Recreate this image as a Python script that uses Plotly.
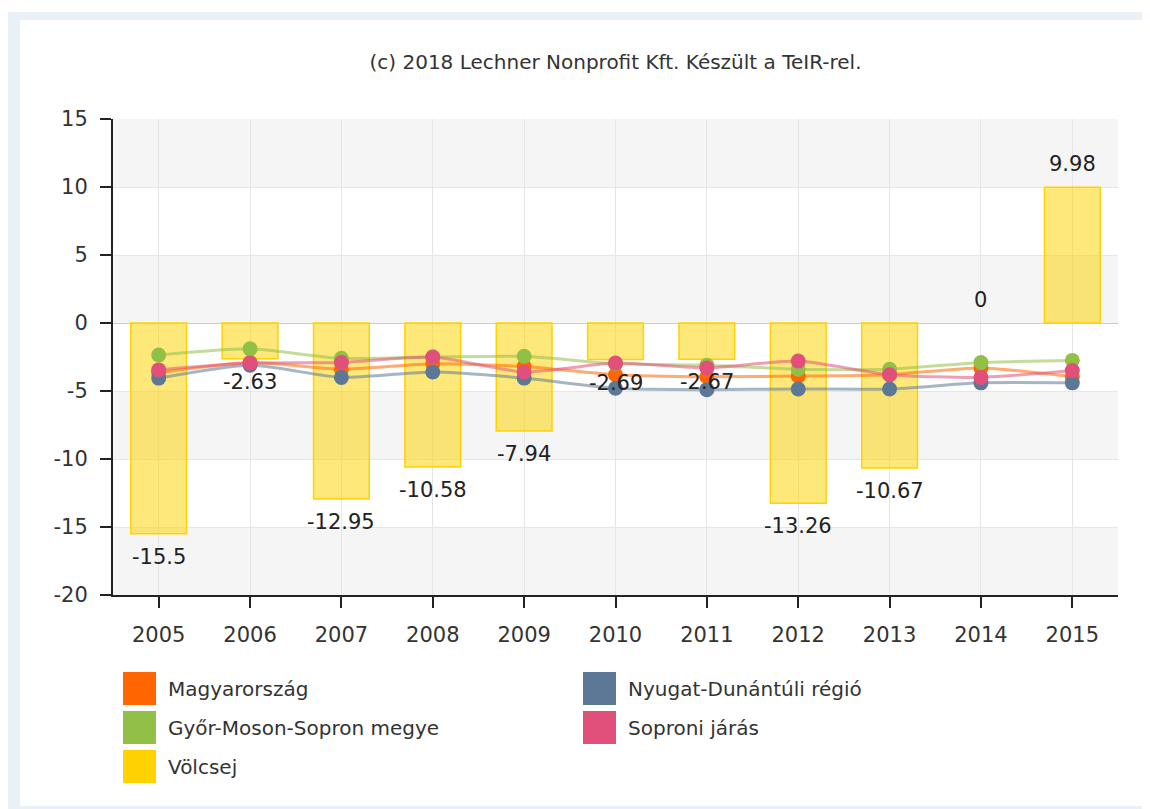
import plotly.graph_objects as go

# ---------------- data ----------------
years = ["2005", "2006", "2007", "2008", "2009", "2010", "2011", "2012", "2013", "2014", "2015"]
volcsej = [-15.5, -2.63, -12.95, -10.58, -7.94, -2.69, -2.67, -13.26, -10.67, 0, 9.98]
magyarorszag = [-3.65, -2.9, -3.4, -3.0, -3.2, -3.8, -3.95, -3.9, -3.8, -3.3, -3.95]
nyugat = [-4.05, -3.1, -4.0, -3.6, -4.05, -4.8, -4.9, -4.85, -4.85, -4.4, -4.4]
gyor = [-2.35, -1.9, -2.6, -2.5, -2.45, -3.0, -3.1, -3.4, -3.4, -2.9, -2.75]
sopron = [-3.45, -2.95, -2.9, -2.5, -3.6, -2.95, -3.3, -2.8, -3.8, -4.0, -3.5]

names = ["Magyarország", "Nyugat-Dunántúli régió", "Győr-Moson-Sopron megye", "Soproni járás", "Völcsej"]
line_series = [magyarorszag, nyugat, gyor, sopron]
colors = ["#FF6600", "#5D7897", "#92C047", "#E0507A", "#FFD200"]
line_rgba = ["rgba(255,102,0,0.55)", "rgba(93,120,151,0.55)", "rgba(146,192,71,0.55)", "rgba(224,80,122,0.55)"]
y_ticks = [-20, -15, -10, -5, 0, 5, 10, 15]
y_tick_labels = ["-20", "-15", "-10", "-5", "0", "5", "10", "15"]
title_text = "(c) 2018 Lechner Nonprofit Kft. Készült a TeIR-rel."

# ---------------- geometry (page pixels; the page body adds an 8px margin) ----------------
OFF = 8
W, H = 1150 - OFF, 809 - OFF
L, R, T, B = 113 - OFF, 1118 - OFF, 119 - OFF, 595 - OFF   # plot area in figure pixels


def px_x(p):
    """page x pixel -> paper x"""
    return (p - OFF - L) / (R - L)


def px_y(p):
    """page y pixel -> paper y"""
    return (B - (p - OFF)) / (B - T)


FONT = "DejaVu Sans"
TXT = "#333333"

fig = go.Figure()

fig.add_trace(go.Bar(
    x=years, y=volcsej, name=names[4], width=0.61,
    marker=dict(color="rgba(255,210,0,0.52)",
                line=dict(color="#FFD200", width=[0 if v == 0 else 1.5 for v in volcsej])),
    showlegend=False, hoverinfo="x+y",
))

for nm, vals, c, lc in zip(names[:4], line_series, colors[:4], line_rgba):
    fig.add_trace(go.Scatter(
        x=years, y=vals, name=nm, mode="lines+markers",
        line=dict(color=lc, width=3, shape="spline", smoothing=0.6),
        marker=dict(color=c, size=15),
        showlegend=False,
    ))

shapes = []
# light blue frame and white card
shapes.append(dict(type="rect", xref="paper", yref="paper",
                   x0=px_x(8), x1=px_x(1150), y0=px_y(809), y1=px_y(12),
                   fillcolor="#EAF0F8", line=dict(width=0), layer="below"))
shapes.append(dict(type="rect", xref="paper", yref="paper",
                   x0=px_x(20), x1=px_x(1150), y0=px_y(806), y1=px_y(20),
                   fillcolor="white", line=dict(width=0), layer="below"))
# alternating grey bands
for i in range(len(y_ticks) - 1):
    if i % 2 == 0:
        shapes.append(dict(type="rect", xref="paper", yref="y",
                           x0=0, x1=1, y0=y_ticks[i], y1=y_ticks[i + 1],
                           fillcolor="#f5f5f5", line=dict(width=0), layer="below"))

annotations = []
# bar value labels (category axis -> use category index)
for i, v in enumerate(volcsej):
    annotations.append(dict(x=i, y=v, xref="x", yref="y", text=f"{v:g}",
                            showarrow=False, yshift=23 if v >= 0 else -23,
                            font=dict(family=FONT, size=21, color="#222222")))

# custom legend (2 columns, row-major)
sq = 33
col_x = [123, 583]
row_y = [672, 711, 750]
for k, nm in enumerate(names):
    cx = col_x[k % 2]
    ry = row_y[k // 2]
    shapes.append(dict(type="rect", xref="paper", yref="paper",
                       x0=px_x(cx), x1=px_x(cx + sq), y0=px_y(ry + sq), y1=px_y(ry),
                       fillcolor=colors[k], line=dict(width=0)))
    annotations.append(dict(x=px_x(cx + 43), y=px_y(ry + sq / 2), xref="paper", yref="paper",
                            text=nm, showarrow=False, xanchor="left", yanchor="middle",
                            font=dict(family=FONT, size=20, color=TXT)))

fig.update_layout(
    width=W, height=H,
    margin=dict(l=L, r=W - R, t=T, b=H - B, pad=0),
    paper_bgcolor="white",
    plot_bgcolor="white",
    font=dict(family=FONT, size=21, color=TXT),
    title=dict(text=title_text, x=(L + R) / 2 / W, xanchor="center",
               y=1 - (62 - OFF) / H, yanchor="middle", xref="container", yref="container",
               font=dict(family=FONT, size=20, color=TXT)),
    shapes=shapes,
    annotations=annotations,
    showlegend=False,
    xaxis=dict(type="category", showgrid=True, gridcolor="#e6e6e6", gridwidth=1,
               showline=True, linecolor="#222222", linewidth=2,
               ticks="outside", ticklen=11, tickwidth=2, tickcolor="#222222",
               tickfont=dict(family=FONT, size=21, color=TXT),
               ticklabelstandoff=9, range=[-0.5, 10.5]),
    yaxis=dict(range=[-20, 15], tickvals=y_ticks, ticktext=y_tick_labels,
               showgrid=True, gridcolor="#e6e6e6",
               zeroline=True, zerolinecolor="#cccccc", zerolinewidth=1,
               showline=True, linecolor="#222222", linewidth=2,
               ticks="outside", ticklen=11, tickwidth=2, tickcolor="#222222",
               tickfont=dict(family=FONT, size=21, color=TXT),
               ticklabelstandoff=8),
)

fig.write_html("out.html")
